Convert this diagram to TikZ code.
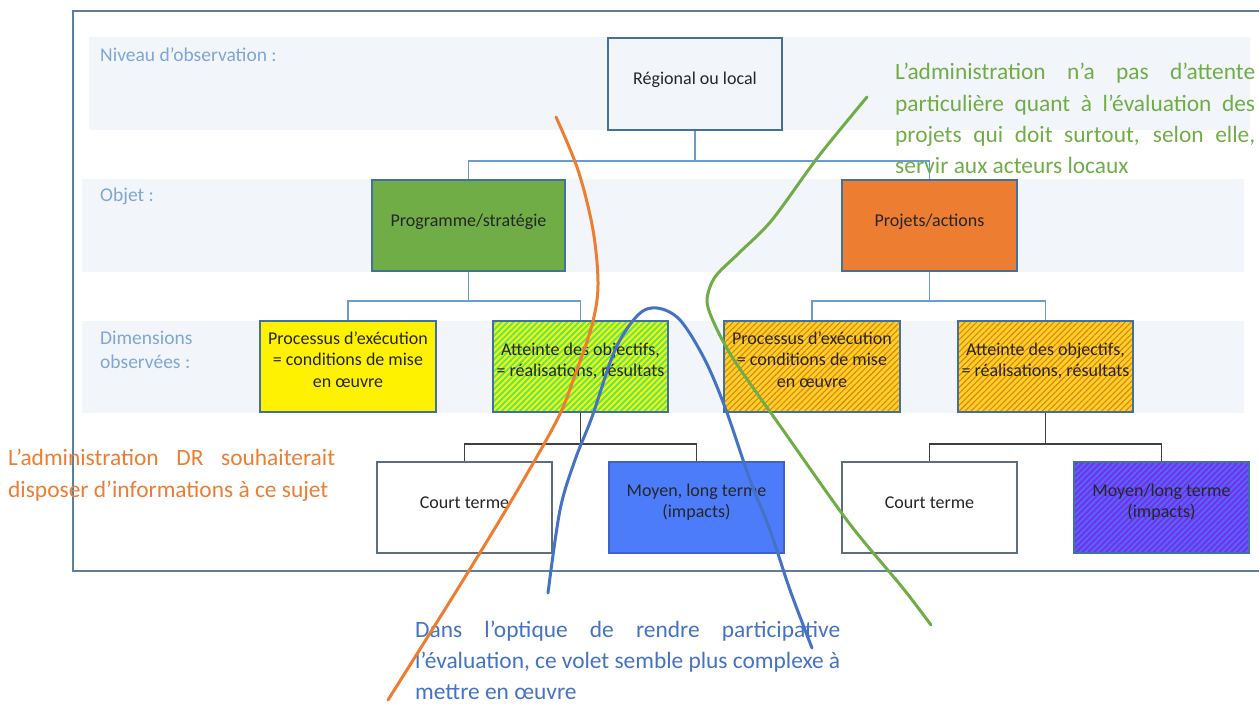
\documentclass[tikz,border=0pt]{standalone}
\usepackage{fontspec}
\setmainfont{Carlito}
\usetikzlibrary{patterns.meta}
\definecolor{bandc}{HTML}{F2F6FB}
\definecolor{labc}{HTML}{7EA6D6}
\definecolor{boxb}{HTML}{41719C}
\definecolor{connc}{HTML}{6C9BD2}
\definecolor{darkconn}{HTML}{404040}
\definecolor{lowb}{HTML}{5D6D7E}
\definecolor{framec}{HTML}{5E7E9E}
\definecolor{textc}{HTML}{262626}
\definecolor{greenc}{HTML}{70AD47}
\definecolor{orangec}{HTML}{ED7D31}
\definecolor{bluec}{HTML}{4472C4}
\definecolor{moyenc}{HTML}{4C7CFA}
\definecolor{limec}{HTML}{55E86A}
\definecolor{goldc}{HTML}{FFD21F}
\definecolor{rustc}{HTML}{E07F26}
\definecolor{purplec}{HTML}{7B2CF0}
\definecolor{stripeb}{HTML}{4C6CF5}
\tikzset{
  boxbase/.style={line width=1.8pt, minimum width=175pt, minimum height=91pt, inner sep=0pt,
    align=center, font=\fontsize{18}{21.5}\selectfont, text=textc},
  upbox/.style={boxbase, draw=boxb},
  lowbox/.style={boxbase, draw=lowb, line width=2.4pt},
  onel/.style={text height=13pt, text depth=12pt},
  multil/.style={text depth=14pt},
  conn/.style={draw=connc, line width=1.6pt},
  dconn/.style={draw=darkconn, line width=1.6pt},
  lvlabel/.style={font=\fontsize{19.5}{24}\selectfont, text=labc, anchor=north west, align=left, inner sep=0pt},
  annot/.style={font=\fontsize{23.4}{31.3}\selectfont, anchor=north west, align=left, inner sep=0pt},
  curve/.style={line width=3pt, line cap=round},
  widestripes/.style={pattern={Lines[angle=45,distance=4.2pt,line width=1.9pt]}},
  thinstripes/.style={pattern={Lines[angle=45,distance=4.2pt,line width=1.1pt]}}
}
\begin{document}
\begin{tikzpicture}[x=1pt,y=-1pt]
\useasboundingbox (0,0) rectangle (1259,705);
% frame
\draw[framec, line width=1.5pt] (1259,11) -- (73,11) -- (73,571) -- (1259,571);
% bands
\fill[bandc] (89,37) rectangle (1250,130);
\fill[bandc] (82,179) rectangle (1244,272);
\fill[bandc] (82,321) rectangle (1244,413);
% level labels
\node[lvlabel] (l1) at (100,48) {Niveau d’observation :};
\node[lvlabel] (l2) at (100,188) {Objet :};
\node[lvlabel] (l3) at (100,331) {Dimensions\\observées :};
% boxes
\node[upbox, onel, fill=bandc, minimum width=174pt, minimum height=92pt] (reg) at (695,84) {Régional ou local};
\node[upbox, onel, fill=greenc, minimum width=193pt] (prog) at (468.5,225.5) {Programme/stratégie};
\node[upbox, onel, fill=orangec] (proj) at (929.5,225.5) {Projets/actions};
\node[upbox, multil, fill=yellow, minimum width=176pt] (proc1) at (348,366.5) {Processus d’exécution\\= conditions de mise\\en œuvre};
\node[upbox, multil, preaction={fill=yellow}, widestripes, pattern color=limec] (att1) at (580.5,366.5) {Atteinte des objectifs,\\= réalisations, résultats};
\node[upbox, multil, preaction={fill=goldc}, thinstripes, pattern color=rustc, minimum width=176pt] (proc2) at (812,366.5) {Processus d’exécution\\= conditions de mise\\en œuvre};
\node[upbox, multil, preaction={fill=goldc}, thinstripes, pattern color=rustc] (att2) at (1045.5,366.5) {Atteinte des objectifs,\\= réalisations, résultats};
\node[lowbox, onel, fill=white] (ct1) at (464.5,507.5) {Court terme};
\node[upbox, multil, fill=moyenc, draw=moyenc!80!black] (ml1) at (696.5,507.5) {Moyen, long terme\\(impacts)};
\node[lowbox, onel, fill=white] (ct2) at (929.5,507.5) {Court terme};
\node[upbox, multil, preaction={fill=purplec}, widestripes, pattern color=stripeb] (ml2) at (1161.5,507.5) {Moyen/long terme\\(impacts)};
% connectors
\draw[conn] (reg.south) -- ++(0,30) -| (prog.north);
\draw[conn] (reg.south) -- ++(0,30) -| (proj.north);
\draw[conn] (prog.south) -- ++(0,29) -| (proc1.north);
\draw[conn] (prog.south) -- ++(0,29) -| (att1.north);
\draw[conn] (proj.south) -- ++(0,29) -| (proc2.north);
\draw[conn] (proj.south) -- ++(0,29) -| (att2.north);
\draw[dconn] (att1.south) -- ++(0,31) -| (ct1.north);
\draw[dconn] (att1.south) -- ++(0,31) -| (ml1.north);
\draw[dconn] (att2.south) -- ++(0,31) -| (ct2.north);
\draw[dconn] (att2.south) -- ++(0,31) -| (ml2.north);
% annotations
\node[annot, text=greenc] (tgreen) at (895,63) {\makebox[360pt][s]{L’administration n’a pas d’attente}\\\makebox[360pt][s]{particulière quant à l’évaluation des}\\\makebox[360pt][s]{projets qui doit surtout, selon elle,}\\servir aux acteurs locaux};
\node[annot, text=orangec] (torange) at (8,449) {\makebox[327pt][s]{L’administration DR souhaiterait}\\disposer d’informations à ce sujet};
\node[annot, text=bluec, font=\fontsize{23.4}{30.8}\selectfont] (tblue) at (415,621) {\makebox[425pt][s]{Dans l’optique de rendre participative}\\\makebox[425pt][s]{l’évaluation, ce volet semble plus complexe à}\\mettre en œuvre};
% freehand curves
\draw[curve, orangec] plot[smooth, tension=0.55] coordinates {(556,117) (578,170) (593,230) (598,285) (592,325) (575,375) (557,420) (510,503) (457,590) (388,700)};
\draw[curve, bluec] plot[smooth, tension=0.55] coordinates {(548,593) (560,510) (575,460) (592,417) (615,350) (638,315) (657,308) (680,320) (705,360) (726,410) (750,480) (770,530) (790,590) (812,648)};
\draw[curve, greenc] plot[smooth, tension=0.5] coordinates {(867,97) (818,157) (772,220) (739,253) (715,277) (707,300) (714,323) (734,360) (783,430) (849,523) (902,587) (931,625)};
\end{tikzpicture}
\end{document}
